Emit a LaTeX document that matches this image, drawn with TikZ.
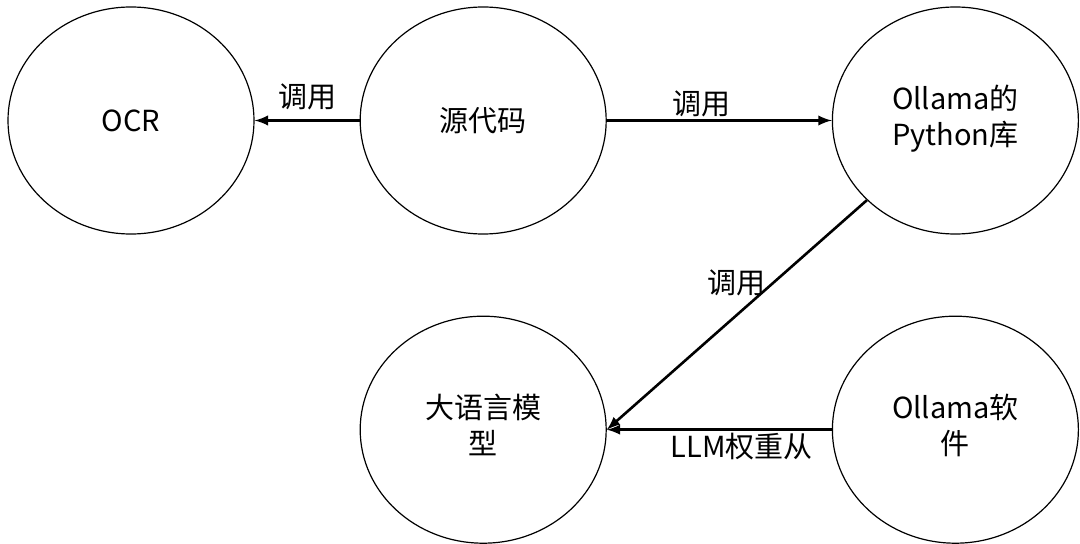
\documentclass[tikz,border=0pt]{standalone}
\usepackage{fontspec}
\setmainfont{Noto Sans CJK SC}
\usepackage{tikz}
\usetikzlibrary{matrix, shapes.geometric, arrows}

\begin{document}
\begin{tikzpicture}[x=0.5pt, y=-0.5pt, font=\fontsize{14.5pt}{18pt}\selectfont]
  \useasboundingbox (0,0) rectangle (1080,544);
  \matrix (m) [matrix of nodes, anchor=north west, inner sep=0pt, row sep=40.5pt, column sep=52.5pt,
    nodes={ellipse, draw, line width=0.6pt, anchor=center, inner sep=0pt, minimum width=123pt, minimum height=113.5pt}] at (7,6)
  {
    OCR & 源代码 &[60pt] \begin{tabular}{@{}c@{}}Ollama的\\Python库\end{tabular} \\
        & \begin{tabular}{@{}c@{}}大语言模\\型\end{tabular} & \begin{tabular}{@{}c@{}}Ollama软\\件\end{tabular} \\
  };
  \path[-latex, line width=1.3pt]
    (m-1-2.west) edge node [above=1.5pt] {调用} (m-1-1.east)

    (m-1-2.east) edge node [above=-2pt, pos=0.42] {调用} (m-1-3.west)

    (m-1-3.222) edge node [left, pos=0.36] {调用} (m-2-2.east)

    (m-2-3.west) edge node [below=-2.5pt, pos=0.4] {LLM权重从} (m-2-2.east)
    ;

\end{tikzpicture}
\end{document}
